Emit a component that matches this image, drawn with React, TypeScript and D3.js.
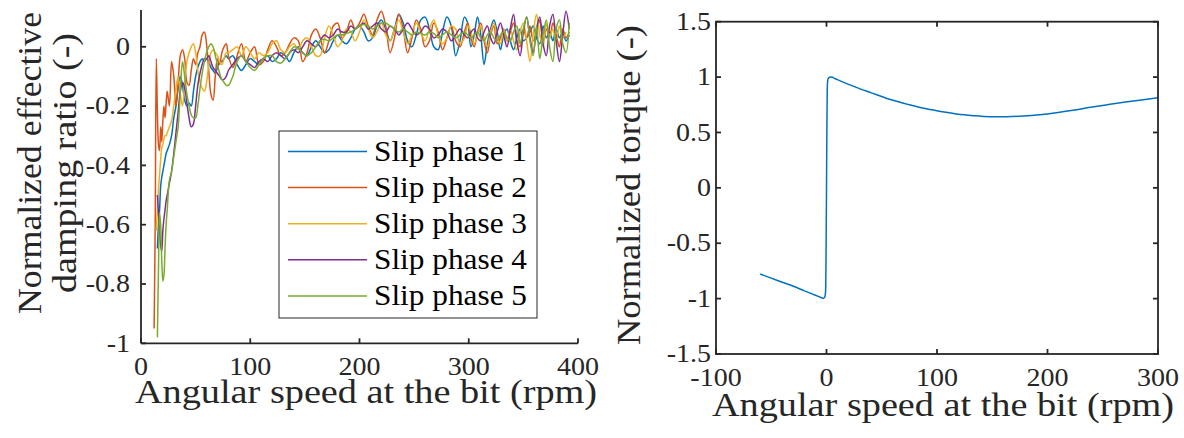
import * as d3 from "d3";

const width = 1184;
const height = 438;

// ---- left panel: effective damping ratio vs bit speed ----
const speedGrid = [
  12, 13, 14, 15, 16, 17, 18, 19, 20, 21, 22, 23, 24,
  26, 28, 30, 32, 34, 36, 38, 40, 42, 44, 46, 48, 50, 52, 54, 56, 58, 60, 62, 64, 66, 68, 70, 72, 74, 76, 78, 80,
  84, 88, 92, 96, 100, 104, 108, 112, 116, 120, 124, 128, 132, 136, 140, 144, 148, 152, 156, 160, 164, 168, 172, 176,
  180, 184, 188, 192, 196, 200, 204, 208, 212, 216, 220, 224, 228, 232, 236, 240, 244, 248, 252, 256, 260, 264, 268,
  272, 276, 280, 284, 288, 292, 296,
  299, 302, 305, 308, 311, 314, 317, 320, 323, 326, 329, 332, 335, 338, 341, 344, 347, 350, 353, 356, 359, 362, 365,
  368, 371, 374, 377, 380, 383, 386, 389, 392,
];

const phase1 = [
  null, null, null, -0.68, -0.6, -0.55, -0.47, -0.44, -0.42, -0.4, -0.38, -0.36, -0.35,
  -0.33, -0.3, -0.24, -0.2, -0.14, -0.1, -0.13, -0.18, -0.2, -0.19, -0.2, -0.15, -0.1, -0.07, -0.05, -0.04, -0.05,
  -0.04, -0.05, -0.07, -0.08, -0.09, -0.07, -0.05, -0.05, -0.04, -0.03, -0.04,
  -0.03, -0.06, -0.08, -0.06, -0.04, -0.05, -0.06, -0.04, -0.03, -0.05, -0.04, -0.02, -0.03, -0.05, -0.02, 0.0,
  -0.02, -0.03, 0.0, 0.02, 0.0, -0.02, -0.01, 0.02, 0.04, 0.02, 0.01, 0.03, 0.06, 0.07, 0.05, 0.02, 0.03, 0.07,
  0.09, 0.06, 0.02, 0.06, 0.11, 0.08, 0.02, 0.0, 0.04, 0.09, 0.1, 0.06, 0.0, -0.01, 0.05, 0.1, 0.07, -0.03, 0.02, 0.1,
  0.08, 0.0, 0.04, 0.1, 0.04, -0.06, 0.01, 0.06, 0.09, 0.05, -0.01, 0.04, 0.06, 0.02, -0.01, 0.03, 0.06, 0.02,
  0.03, 0.05, 0.07, 0.03, 0.01, 0.07, 0.03, 0.05, 0.02, 0.06, 0.03, 0.05, 0.02, 0.04,
];

const phase2 = [
  -0.95, -0.6, -0.04, -0.22, -0.33, -0.35, -0.27, -0.32, -0.25, -0.2, -0.24, -0.19, -0.15,
  -0.2, -0.05, -0.1, -0.2, -0.12, -0.03, -0.01, -0.04, -0.12, -0.13, -0.08, -0.04, -0.06, -0.02, 0.0, 0.04, 0.05,
  0.01, -0.08, -0.16, -0.18, -0.1, -0.04, -0.06, -0.02, 0.0, 0.01, -0.03,
  -0.07, -0.03, 0.01, -0.05, -0.02, 0.0, -0.06, -0.05, -0.01, 0.02, 0.0, -0.03, -0.02, 0.01, 0.03, 0.02, -0.05,
  -0.02, 0.04, 0.06, 0.03, -0.02, 0.02, 0.07, 0.08, 0.03, 0.05, 0.09, 0.06, 0.08, 0.11, 0.07, 0.04, 0.09, 0.12,
  0.07, -0.02, 0.03, 0.11, 0.06, -0.02, 0.03, 0.09, 0.06, 0.0, 0.02, 0.08, 0.05, -0.01, 0.03, 0.07, 0.02, 0.0, 0.05,
  0.08, 0.03, 0.0, 0.05, 0.08, 0.02, -0.02, 0.04, 0.07, 0.01, 0.03, 0.06, 0.02, 0.05, 0.08, 0.02, 0.0, 0.06,
  0.03, 0.07, 0.02, 0.05, 0.09, 0.02, 0.06, 0.03, 0.08, 0.04, 0.0, 0.06, 0.03, 0.05,
];

const phase3 = [
  null, null, -0.62, -0.55, -0.48, -0.43, -0.38, -0.34, -0.33, -0.31, -0.3, -0.3, -0.29,
  -0.27, -0.25, -0.2, -0.14, -0.1, -0.16, -0.2, -0.12, -0.05, -0.02, 0.0, 0.01, -0.02, -0.08, -0.12, -0.14, -0.15,
  -0.12, -0.06, -0.02, -0.01, -0.02, -0.03, -0.05, -0.06, -0.04, -0.02, -0.02,
  -0.01, 0.0, -0.03, 0.0, -0.02, -0.04, -0.02, -0.03, -0.02, 0.01, 0.02, -0.01, -0.02, 0.0, 0.01, -0.01, 0.02,
  0.03, 0.0, -0.03, -0.03, 0.03, 0.07, 0.04, 0.0, 0.02, 0.06, 0.05, 0.02, 0.05, 0.09, 0.06, 0.03, 0.05, 0.08,
  0.04, 0.02, 0.06, 0.09, 0.05, 0.01, 0.04, 0.08, 0.05, 0.02, 0.06, 0.09, 0.04, 0.01, 0.03, 0.07, 0.06, 0.01, 0.03,
  0.07, 0.05, 0.01, 0.04, 0.07, 0.03, 0.0, 0.05, 0.08, 0.03, 0.01, 0.06, 0.02, 0.06, 0.02, -0.01, 0.05, 0.08,
  0.02, -0.05, 0.04, 0.11, 0.04, 0.0, 0.08, 0.03, 0.06, 0.02, 0.07, 0.03, 0.05, null,
];

const phase4 = [
  null, null, null, -0.5, -0.56, -0.62, -0.67, -0.69, -0.62, -0.58, -0.55, -0.52, -0.5,
  -0.46, -0.42, -0.36, -0.29, -0.22, -0.15, -0.12, -0.14, -0.19, -0.24, -0.27, -0.26, -0.2, -0.13, -0.09, -0.06,
  -0.04, -0.04, -0.03, -0.05, -0.07, -0.08, -0.09, -0.1, -0.11, -0.11, -0.1, -0.08,
  -0.06, -0.04, -0.03, -0.05, -0.06, -0.07, -0.05, -0.04, -0.05, -0.03, -0.02, -0.03, -0.04, -0.02, -0.01, -0.02,
  0.0, 0.02, 0.01, 0.0, 0.02, 0.04, 0.03, 0.04, 0.06, 0.05, 0.05, 0.07, 0.06, 0.07, 0.08, 0.06, 0.07, 0.08, 0.06,
  0.05, 0.07, 0.06, 0.04, 0.06, 0.08, 0.06, 0.04, 0.05, 0.07, 0.06, 0.03, 0.04, 0.06, 0.05, 0.02, 0.04, 0.06, 0.04,
  0.03, 0.05, 0.06, 0.03, 0.02, 0.05, 0.07, 0.03, 0.01, 0.05, 0.08, 0.04, 0.0, 0.06, 0.11, 0.02, -0.03, 0.05,
  0.1, 0.03, -0.02, 0.06, 0.1, 0.01, -0.03, 0.07, 0.11, 0.02, -0.05, 0.04, 0.12, 0.06,
];

const phase5 = [
  null, null, null, -0.98, -0.75, -0.56, -0.6, -0.72, -0.79, -0.77, -0.68, -0.6, -0.55,
  -0.45, -0.42, -0.37, -0.32, -0.27, -0.15, -0.05, -0.1, -0.16, -0.2, -0.23, -0.24, -0.24, -0.2, -0.14, -0.09,
  -0.05, -0.02, 0.0, 0.01, 0.0, -0.03, -0.06, -0.09, -0.11, -0.12, -0.13, -0.13,
  -0.1, -0.05, -0.03, -0.05, -0.07, -0.08, -0.06, -0.04, -0.03, -0.03, -0.05, -0.055, -0.04, -0.02, 0.0, -0.005,
  -0.02, -0.03, -0.02, 0.0, 0.02, 0.025, 0.02, 0.03, 0.04, 0.04, 0.045, 0.05, 0.06, 0.07, 0.075, 0.07, 0.06, 0.07,
  0.08, 0.08, 0.07, 0.06, 0.05, 0.06, 0.05, 0.04, 0.05, 0.045, 0.04, 0.05, 0.045, 0.03, 0.04, 0.05, 0.04, 0.03,
  0.04, 0.05,
  0.04, 0.03, 0.04, 0.05, 0.03, 0.02, 0.04, 0.05, 0.03, 0.02, 0.04, 0.05, 0.03, 0.02, 0.05, 0.07, 0.01, 0.06,
  0.1, 0.02, -0.03, 0.07, -0.04, 0.04, 0.09, 0.0, -0.05, 0.06, 0.09, 0.01, -0.02, 0.08,
];

const phaseNames = ["Slip phase 1", "Slip phase 2", "Slip phase 3", "Slip phase 4", "Slip phase 5"];
const phaseValues = [phase1, phase2, phase3, phase4, phase5];
const colors = ["#0072BD", "#D95319", "#EDB120", "#7E2F8E", "#77AC30"];

const leftXTicks = [0, 100, 200, 300, 400];
const leftYTicks = [-1, -0.8, -0.6, -0.4, -0.2, 0];

// ---- right panel: friction torque curve ----
const torqueSpeed = [
  -60, -50, -40, -30, -20, -10, -5, -3, -1.5, -0.8, -0.4, 0, 0.4, 0.8, 1.5, 3, 4.5, 8, 15, 27, 40, 57, 75, 88,
  105, 118, 133, 148, 163, 178, 193, 208, 223, 239, 254, 269, 285, 300,
];
const torqueValue = [
  -0.778, -0.815, -0.852, -0.889, -0.93, -0.97, -0.99, -0.998, -0.985, -0.93, -0.6, 0, 0.6, 0.93, 0.985, 0.998,
  1.0, 0.985, 0.955, 0.907, 0.86, 0.8, 0.75, 0.718, 0.688, 0.667, 0.652, 0.643, 0.642, 0.648, 0.66, 0.678, 0.7,
  0.727, 0.75, 0.772, 0.793, 0.814,
];
const rightXTicks = [-100, 0, 100, 200, 300];
const rightYTicks = [-1.5, -1, -0.5, 0, 0.5, 1, 1.5];

const axisColor = "#262626";
const serif = "Liberation Serif, Times New Roman, serif";
const tickSize = 25;
const labelSize = 33;
const tickLen = 5;

// the exported figure has slightly wide tick glyphs, so stretch labels a bit
const tickWidth = (s: string) => {
  let w = 0;
  for (const c of s) w += c === "-" ? 0.333 : c === "." ? 0.25 : 0.5;
  return w * tickSize * 1.12;
};

const TickText = ({ x, y, anchor, dy, label }: { x: number; y: number; anchor: string; dy?: string; label: string }) => (
  <text
    x={x}
    y={y}
    dy={dy}
    textAnchor={anchor}
    fontFamily={serif}
    fontSize={tickSize}
    fill={axisColor}
    textLength={tickWidth(label)}
    lengthAdjust="spacingAndGlyphs"
  >
    {label}
  </text>
);

export default function App() {
  const xL = d3.scaleLinear().domain([0, 400]).range([141, 578]);
  const yL = d3.scaleLinear().domain([-1, 0.124]).range([343.3, 10]);
  const xR = d3.scaleLinear().domain([-100, 300]).range([716, 1158]);
  const yR = d3.scaleLinear().domain([-1.5, 1.5]).range([354, 21.7]);

  const slipLine = d3
    .line<[number, number | null]>()
    .defined((d) => d[1] !== null)
    .x((d) => xL(d[0]))
    .y((d) => yL(d[1] as number))
    .curve(d3.curveCatmullRom.alpha(0.5));

  const torqueLine = d3
    .line<[number, number]>()
    .x((d) => xR(d[0]))
    .y((d) => yR(d[1]))
    .curve(d3.curveMonotoneX);

  const series = phaseValues.map((vals) =>
    speedGrid.map((s, i) => [s, vals[i]] as [number, number | null])
  );
  const torque = torqueSpeed.map((s, i) => [s, torqueValue[i]] as [number, number]);

  const [lx0, lx1] = xL.range();
  const [ly0, ly1] = yL.range();
  const [rx0, rx1] = xR.range();
  const [ry0, ry1] = yR.range();

  const legend = { x: 279, y: 131, w: 258, h: 187, row0: 151.5, step: 36.1 };

  return (
    <svg
      width={width}
      height={height}
      style={{ position: "absolute", left: 0, top: 0, background: "#fff" }}
    >
      <rect width={width} height={height} fill="#fff" />

      {/* left panel */}
      <g>
        {series.map((s, i) => (
          <path key={i} d={slipLine(s) || ""} fill="none" stroke={colors[i]} strokeWidth={1.5} strokeLinejoin="round" />
        ))}
        <line x1={lx0} x2={lx0} y1={ly0} y2={ly1} stroke={axisColor} strokeWidth={1.8} />
        <line x1={lx0} x2={lx1} y1={ly0} y2={ly0} stroke={axisColor} strokeWidth={1.8} />
        {leftXTicks.map((t) => (
          <g key={t}>
            <line x1={xL(t)} x2={xL(t)} y1={ly0} y2={ly0 - tickLen} stroke={axisColor} strokeWidth={1.8} />
            <TickText x={xL(t)} y={375} anchor="middle" label={String(t)} />
          </g>
        ))}
        {leftYTicks.map((t) => (
          <g key={t}>
            <line x1={lx0} x2={lx0 + tickLen} y1={yL(t)} y2={yL(t)} stroke={axisColor} strokeWidth={1.8} />
            <TickText x={130} y={yL(t)} dy="0.33em" anchor="end" label={String(t)} />
          </g>
        ))}
        <text x={135} y={403} fontFamily={serif} fontSize={labelSize} fill={axisColor} textLength={462} lengthAdjust="spacingAndGlyphs">
          Angular speed at the bit (rpm)
        </text>
        <text transform="translate(41,163) rotate(-90)" textAnchor="middle" fontFamily={serif} fontSize={labelSize} fill={axisColor} textLength={302} lengthAdjust="spacingAndGlyphs">
          Normalized effective
        </text>
        <text transform="translate(76,163) rotate(-90)" textAnchor="middle" fontFamily={serif} fontSize={labelSize} fill={axisColor} textLength={260} lengthAdjust="spacingAndGlyphs">
          damping ratio (-)
        </text>

        {/* legend */}
        <rect x={legend.x} y={legend.y} width={legend.w} height={legend.h} fill="#fff" stroke={axisColor} strokeWidth={1} />
        {phaseNames.map((name, i) => {
          const ry = legend.row0 + i * legend.step;
          return (
            <g key={name}>
              <line x1={288} x2={367} y1={ry} y2={ry} stroke={colors[i]} strokeWidth={1.5} />
              <text x={374} y={ry + 9.5} fontFamily={serif} fontSize={29} fill="#000" textLength={153} lengthAdjust="spacingAndGlyphs">
                {name}
              </text>
            </g>
          );
        })}
      </g>

      {/* right panel */}
      <g>
        <path d={torqueLine(torque) || ""} fill="none" stroke={colors[0]} strokeWidth={1.5} />
        <rect x={rx0} y={ry1} width={rx1 - rx0} height={ry0 - ry1} fill="none" stroke={axisColor} strokeWidth={1.8} />
        {rightXTicks.map((t) => (
          <g key={t}>
            <line x1={xR(t)} x2={xR(t)} y1={ry0} y2={ry0 - tickLen} stroke={axisColor} strokeWidth={1.8} />
            <line x1={xR(t)} x2={xR(t)} y1={ry1} y2={ry1 + tickLen} stroke={axisColor} strokeWidth={1.8} />
            <TickText x={xR(t)} y={386} anchor="middle" label={String(t)} />
          </g>
        ))}
        {rightYTicks.map((t) => (
          <g key={t}>
            <line x1={rx0} x2={rx0 + tickLen} y1={yR(t)} y2={yR(t)} stroke={axisColor} strokeWidth={1.8} />
            <line x1={rx1} x2={rx1 - tickLen} y1={yR(t)} y2={yR(t)} stroke={axisColor} strokeWidth={1.8} />
            <TickText x={711} y={yR(t)} dy="0.33em" anchor="end" label={String(t)} />
          </g>
        ))}
        <text x={712} y={416} fontFamily={serif} fontSize={labelSize} fill={axisColor} textLength={462} lengthAdjust="spacingAndGlyphs">
          Angular speed at the bit (rpm)
        </text>
        <text transform="translate(640,185) rotate(-90)" textAnchor="middle" fontFamily={serif} fontSize={labelSize} fill={axisColor} textLength={320} lengthAdjust="spacingAndGlyphs">
          Normalized torque (-)
        </text>
      </g>
    </svg>
  );
}
